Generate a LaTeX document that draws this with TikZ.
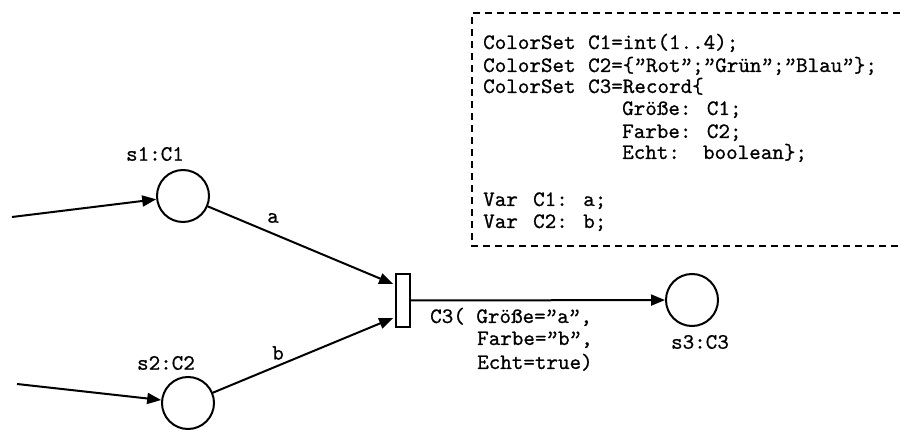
\documentclass[tikz,border=0pt]{standalone}
\usepackage{fontspec}
\usetikzlibrary{arrows.meta}
% typewriter face, slightly heavier strokes
\newfontfamily\codefont{lmmono10-regular.otf}[FakeBold=0.7]
% double closing quote made of two curly apostrophes in one character cell
\newcommand\closeq{\makebox[0.525em][c]{’\kern-0.32em’}}
\begin{document}
\begin{tikzpicture}[x=1pt,y=-1pt,
  every node/.style={font=\fontsize{22}{22}\selectfont\codefont, inner sep=0pt},
  place/.style={circle, draw, line width=2pt, minimum size=52pt},
  trans/.style={rectangle, draw, line width=1.8pt, fill=white,
                minimum width=14pt, minimum height=53pt},
  arc/.style={line width=2pt, -{Triangle[length=14pt,width=11pt]}},
  decl/.style={line width=1.2pt, dash pattern=on 7pt off 5pt},
  txt/.style={anchor=base west},
]
\useasboundingbox (0,0) rectangle (900,430);

% declaration block (open to the right)
\draw[decl] (900,13) -- (472,13) -- (472,246) -- (900,246);
\node[txt] (d1) at (483,49)  {\makebox[105pt][l]{ColorSet}C1=int(1..4);};
\node[txt] (d2) at (483,72)  {\makebox[105pt][l]{ColorSet}C2=\{\closeq Rot\closeq;\closeq Grün\closeq;\closeq Blau\closeq\};};
\node[txt] (d3) at (483,93)  {\makebox[105pt][l]{ColorSet}C3=Record\{};
\node[txt] (d4) at (622,115) {Größe: C1;};
\node[txt] (d5) at (622,138) {Farbe: C2;};
\node[txt] (d6) at (622,159) {Echt:~~boolean\};};
\node[txt] (d7) at (483,206) {\makebox[50pt][l]{Var}C1: a;};
\node[txt] (d8) at (483,228) {\makebox[50pt][l]{Var}C2: b;};

% places and transition
\node[place] (s1) at (183,196) {};
\node[place] (s2) at (188,403) {};
\node[place] (s3) at (692,300) {};
\node[trans] (t)  at (403,300.5) {};

\node (s1l) at (155,154) {s1:C1};
\node (s2l) at (166,363) {s2:C2};
\node (s3l) at (700,342) {s3:C3};

% arcs
\coordinate (in1) at (12,217);
\coordinate (in2) at (17,384);
\coordinate (ta) at ([xshift=-2pt,yshift=16.5pt]t.west);
\coordinate (tb) at ([xshift=-2pt,yshift=-17.5pt]t.west);
\draw[arc] (in1) -- (s1);
\draw[arc] (in2) -- (s2);
\draw[arc] (s1) -- (ta);
\draw[arc] (s2) -- (tb);
\draw[arc] (t.east) -- (s3);

\node (la) at (273,218) {a};
\node (lb) at (278,353) {b};

% output arc inscription
\node[txt] (o1) at (430,323) {C3(~Größe=\closeq a\closeq,};
\node[txt] (o2) at (477,345) {Farbe=\closeq b\closeq,};
\node[txt] (o3) at (477,369) {Echt=true)};
\end{tikzpicture}
\end{document}
